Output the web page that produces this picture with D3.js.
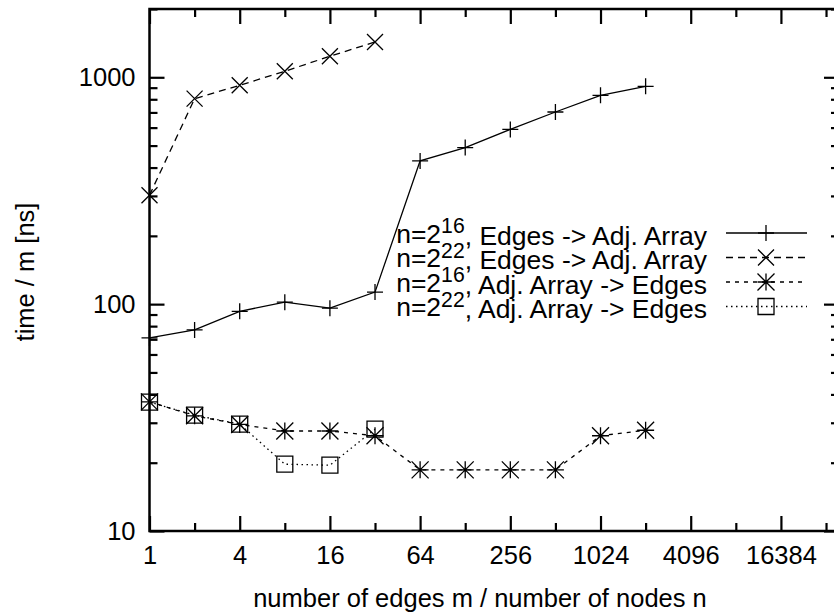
<!DOCTYPE html>
<html><head><meta charset="utf-8">
<script src="https://cdn.jsdelivr.net/npm/d3@7"></script>
<style>
html,body{margin:0;padding:0;background:#fff;}
svg{display:block;font-family:"Liberation Sans",Arial,Helvetica,sans-serif;}
</style></head>
<body>
<svg id="chart" width="834" height="615"></svg>
<script>
// ---- data ----
const xValues = [1, 2, 4, 8, 16, 32, 64, 128, 256, 512, 1024, 2048];
const edgesToAdj16 = [71, 77, 93, 102, 96, 113, 428, 490, 589, 703, 833, 912];
const edgesToAdj22 = [302, 805, 922, 1063, 1238, 1431];
const adjToEdges16 = [37.1, 32.2, 29.5, 27.6, 27.6, 26.3, 18.6, 18.6, 18.6, 18.6, 26.3, 27.8];
const adjToEdges22 = [37, 32.4, 29.6, 19.7, 19.5, 28.1];
const xTickLabels = [1, 4, 16, 64, 256, 1024, 4096, 16384];
const xMinorTicks = [2, 8, 32, 128, 512, 2048, 8192, 32768];
const yTickLabels = [10, 100, 1000];
const yMinorTicks = [20,30,40,50,60,70,80,90,200,300,400,500,600,700,800,900,2000];
const seriesNames = [
  ["n=2", "16", ", Edges -> Adj. Array"],
  ["n=2", "22", ", Edges -> Adj. Array"],
  ["n=2", "16", ", Adj. Array -> Edges"],
  ["n=2", "22", ", Adj. Array -> Edges"]
];
const xLabel = "number of edges m / number of nodes n";
const yLabel = "time / m [ns]";

// ---- layout ----
const L = 149.5, R = 839, T = 9, B = 531;
const svg = d3.select("#chart");
const x = d3.scaleLog().base(2).domain([1, 40000]).range([L, R]);
const y = d3.scaleLog().domain([10, 2000]).range([B, T]);
const fs = 25.5;
const lfs = 26.5;

function styleAxis(g){
  g.select(".domain").remove();
  g.selectAll(".tick line").attr("stroke","#000").attr("stroke-width",2.2);
  g.selectAll("text").attr("font-size",fs).attr("fill","#000").attr("font-family","Liberation Sans, Arial, sans-serif");
}
// bottom
svg.append("g").attr("transform",`translate(0,${B})`)
  .call(d3.axisBottom(x).tickValues(xTickLabels).tickFormat(d3.format("d")).tickSizeInner(-15).tickSizeOuter(0).tickPadding(15))
  .call(styleAxis);
svg.append("g").attr("transform",`translate(0,${B})`)
  .call(d3.axisBottom(x).tickValues(xMinorTicks).tickFormat("").tickSizeInner(-8).tickSizeOuter(0))
  .call(styleAxis);
// top
svg.append("g").attr("transform",`translate(0,${T})`)
  .call(d3.axisTop(x).tickValues(xTickLabels).tickFormat("").tickSizeInner(-15).tickSizeOuter(0))
  .call(styleAxis);
svg.append("g").attr("transform",`translate(0,${T})`)
  .call(d3.axisTop(x).tickValues(xMinorTicks).tickFormat("").tickSizeInner(-8).tickSizeOuter(0))
  .call(styleAxis);
// left
svg.append("g").attr("transform",`translate(${L},0)`)
  .call(d3.axisLeft(y).tickValues(yTickLabels).tickFormat(d3.format("d")).tickSizeInner(-15).tickSizeOuter(0).tickPadding(14))
  .call(styleAxis);
svg.append("g").attr("transform",`translate(${L},0)`)
  .call(d3.axisLeft(y).tickValues(yMinorTicks).tickFormat("").tickSizeInner(-8).tickSizeOuter(0))
  .call(styleAxis);
// right
svg.append("g").attr("transform",`translate(${R},0)`)
  .call(d3.axisRight(y).tickValues(yTickLabels).tickFormat("").tickSizeInner(-15).tickSizeOuter(0))
  .call(styleAxis);
svg.append("g").attr("transform",`translate(${R},0)`)
  .call(d3.axisRight(y).tickValues(yMinorTicks).tickFormat("").tickSizeInner(-8).tickSizeOuter(0))
  .call(styleAxis);

// frame
svg.append("rect").attr("x",L).attr("y",T).attr("width",R-L).attr("height",B-T)
  .attr("fill","none").attr("stroke","#000").attr("stroke-width",2.5);

// labels
svg.append("text").attr("x",480).attr("y",607).attr("text-anchor","middle")
  .attr("font-size",fs).text(xLabel);
svg.append("text").attr("transform","translate(34,272) rotate(-90)").attr("text-anchor","middle")
  .attr("font-size",fs).text(yLabel);

// markers
function markerPath(type, s){
  if(type==="plus") return `M${-s},0H${s}M0,${-s}V${s}`;
  if(type==="cross") return `M${-s},${-s}L${s},${s}M${-s},${s}L${s},${-s}`;
  if(type==="star") return `M${-s},0H${s}M0,${-s}V${s}M${-s},${-s}L${s},${s}M${-s},${s}L${s},${-s}`;
  if(type==="box") return `M${-s},${-s}H${s}V${s}H${-s}Z`;
}
const series = [
  {vals: edgesToAdj16, dash:null, marker:"plus", ms:8},
  {vals: edgesToAdj22, dash:"7,5", marker:"cross", ms:8},
  {vals: adjToEdges16, dash:"4,5", marker:"star", ms:8.5},
  {vals: adjToEdges22, dash:"1.5,3.5", marker:"box", ms:8}
];
const line = d3.line().x(d=>x(d[0])).y(d=>y(d[1]));
const plot = svg.append("g");
series.forEach(s=>{
  const pts = s.vals.map((v,i)=>[xValues[i], v]);
  plot.append("path").datum(pts).attr("d",line).attr("fill","none")
    .attr("stroke","#000").attr("stroke-width",1.3).attr("stroke-dasharray",s.dash);
  plot.selectAll(null).data(pts).enter().append("path")
    .attr("transform",d=>`translate(${x(d[0])},${y(d[1])})`)
    .attr("d",markerPath(s.marker,s.ms)).attr("fill","none")
    .attr("stroke","#000").attr("stroke-width",1.3);
});

// legend
const legY0 = 233, legDY = 24.5;
series.forEach((s,i)=>{
  const yy = legY0 + i*legDY;
  const t = svg.append("text").attr("x",707).attr("y",yy).attr("dy","0.36em")
    .attr("text-anchor","end").attr("font-size",lfs);
  const nm = seriesNames[i];
  t.append("tspan").text(nm[0]);
  t.append("tspan").attr("dy","-0.45em").attr("font-size",lfs*0.8).text(nm[1]);
  t.append("tspan").attr("dy","0.45em").text(nm[2]);
  svg.append("line").attr("x1",726).attr("x2",807).attr("y1",yy).attr("y2",yy)
    .attr("stroke","#000").attr("stroke-width",1.3).attr("stroke-dasharray",s.dash);
  svg.append("path").attr("transform",`translate(766,${yy})`)
    .attr("d",markerPath(s.marker,s.ms)).attr("fill","none").attr("stroke","#000").attr("stroke-width",1.3);
});
</script>
</body></html>
